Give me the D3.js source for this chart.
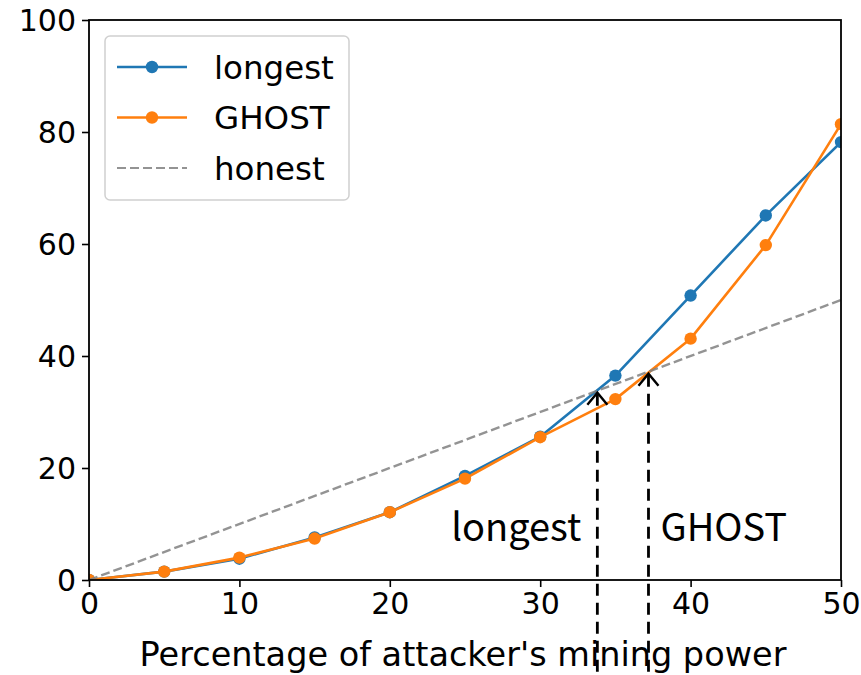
<!DOCTYPE html>
<html>
<head>
<meta charset="utf-8">
<script src="https://cdn.jsdelivr.net/npm/d3@7"></script>
<style>
  html, body { margin: 0; padding: 0; background: #fff; }
  svg { display: block; }
</style>
</head>
<body>
<svg id="chart" width="861" height="675"></svg>
<script>
// Attacker share (%) on the x axis
const xValues = [0, 5, 10, 15, 20, 25, 30, 35, 40, 45, 50];
// Attacker revenue share (%) under each fork-choice rule
const longestValues = [0, 1.5, 3.8, 7.6, 12.1, 18.6, 25.6, 36.5, 50.8, 65.1, 78.2];
const ghostValues   = [0, 1.5, 4.0, 7.4, 12.1, 18.1, 25.5, 32.3, 43.1, 59.8, 81.4];
// Break-even points where each rule crosses the honest line
const thresholdNames = ["longest", "GHOST"];
const thresholdValues = [33.8, 37.2];
const xTicks = [0, 10, 20, 30, 40, 50];
const yTicks = [0, 20, 40, 60, 80, 100];
const legendNames = ["longest", "GHOST", "honest"];

const W = 861, H = 675;
const m = { left: 89, right: 20, top: 20, bottom: 95 };
const svg = d3.select("#chart");

const x = d3.scaleLinear().domain([0, 50]).range([m.left, W - m.right]);
const y = d3.scaleLinear().domain([0, 100]).range([H - m.bottom, m.top]);

const blue = "#1f77b4", orange = "#ff7f0e", gray = "#808080";
const tickFont = "DejaVu Sans, sans-serif";

svg.append("defs").append("clipPath").attr("id", "plot-clip")
  .append("rect")
  .attr("x", x(0)).attr("y", y(100))
  .attr("width", x(50) - x(0)).attr("height", y(0) - y(100));

const plot = svg.append("g").attr("clip-path", "url(#plot-clip)");

function drawSeries(values, color) {
  const pts = xValues.map((v, i) => [v, values[i]]);
  plot.append("path")
    .datum(pts)
    .attr("fill", "none")
    .attr("stroke", color)
    .attr("stroke-width", 2.6)
    .attr("stroke-linejoin", "round")
    .attr("d", d3.line().x(d => x(d[0])).y(d => y(d[1])));
  plot.append("g").selectAll("circle")
    .data(pts).join("circle")
    .attr("cx", d => x(d[0])).attr("cy", d => y(d[1]))
    .attr("r", 6.2).attr("fill", color);
}

drawSeries(longestValues, blue);
drawSeries(ghostValues, orange);

// honest mining earns exactly its share
plot.append("path")
  .datum([0, 50])
  .attr("fill", "none")
  .attr("stroke", gray)
  .attr("stroke-opacity", 0.85)
  .attr("stroke-width", 2.4)
  .attr("stroke-dasharray", "9,4")
  .attr("d", d3.line().x(d => x(d)).y(d => y(d)));

// axes
const xAxis = svg.append("g")
  .attr("transform", `translate(0,${y(0)})`)
  .call(d3.axisBottom(x).tickValues(xTicks).tickSize(7).tickPadding(6).tickFormat(d3.format("d")));
const yAxis = svg.append("g")
  .attr("transform", `translate(${x(0)},0)`)
  .call(d3.axisLeft(y).tickValues(yTicks).tickSize(7).tickPadding(6).tickFormat(d3.format("d")));
[xAxis, yAxis].forEach(a => {
  a.select(".domain").remove();
  a.selectAll(".tick line").attr("stroke", "#000").attr("stroke-width", 1.6);
  a.selectAll(".tick text").attr("fill", "#000")
    .style("font-family", tickFont).style("font-size", "30px");
});
yAxis.selectAll(".tick text").attr("dy", "0.36em");

// frame
svg.append("rect")
  .attr("x", x(0)).attr("y", y(100))
  .attr("width", x(50) - x(0)).attr("height", y(0) - y(100))
  .attr("fill", "none").attr("stroke", "#000").attr("stroke-width", 1.8);

// x label
svg.append("text")
  .attr("x", (x(0) + x(50)) / 2 - 2).attr("y", 666)
  .attr("text-anchor", "middle")
  .style("font-family", tickFont).style("font-size", "33.5px")
  .attr("fill", "#000")
  .text("Percentage of attacker's mining power");

// legend
const lg = svg.append("g");
lg.append("rect")
  .attr("x", 105).attr("y", 36).attr("width", 244).attr("height", 164)
  .attr("rx", 5).attr("fill", "#fff").attr("fill-opacity", 0.85)
  .attr("stroke", "#d0d0d0").attr("stroke-width", 1.5);
const legendColors = [blue, orange, gray];
legendNames.forEach((name, i) => {
  const ly = 67 + i * 50.5;
  const g = lg.append("g");
  g.append("line")
    .attr("x1", 117).attr("x2", 187).attr("y1", ly).attr("y2", ly)
    .attr("stroke", legendColors[i]).attr("stroke-width", i === 2 ? 2.2 : 2.6)
    .attr("stroke-dasharray", i === 2 ? "9,4" : null)
    .attr("stroke-opacity", i === 2 ? 0.85 : 1);
  if (i < 2) {
    g.append("circle").attr("cx", 152).attr("cy", ly).attr("r", 6.2).attr("fill", legendColors[i]);
  }
  g.append("text")
    .attr("x", 214).attr("y", ly).attr("dy", "0.36em")
    .style("font-family", tickFont).style("font-size", "32.5px")
    .attr("fill", "#000")
    .text(name);
});

// break-even arrows with their labels
const ann = svg.append("g");
thresholdValues.forEach((t, i) => {
  const ax = x(t), ay = y(t) + 2;
  ann.append("line")
    .attr("x1", ax).attr("x2", ax).attr("y1", ay + 1).attr("y2", H)
    .attr("stroke", "#000").attr("stroke-width", 2.8)
    .attr("stroke-dasharray", "12,7");
  ann.append("path")
    .attr("d", `M${ax - 10},${ay + 12} L${ax},${ay} L${ax + 10},${ay + 12}`)
    .attr("fill", "none").attr("stroke", "#000").attr("stroke-width", 2.4);
  ann.append("text")
    .attr("x", i === 0 ? ax - 16 : ax + 12)
    .attr("y", 541)
    .attr("text-anchor", i === 0 ? "end" : "start")
    .style("font-family", "'Noto Sans CJK JP', 'Noto Sans', sans-serif")
    .style("font-size", "38px")
    .attr("fill", "#000")
    .text(thresholdNames[i]);
});
</script>
</body>
</html>
